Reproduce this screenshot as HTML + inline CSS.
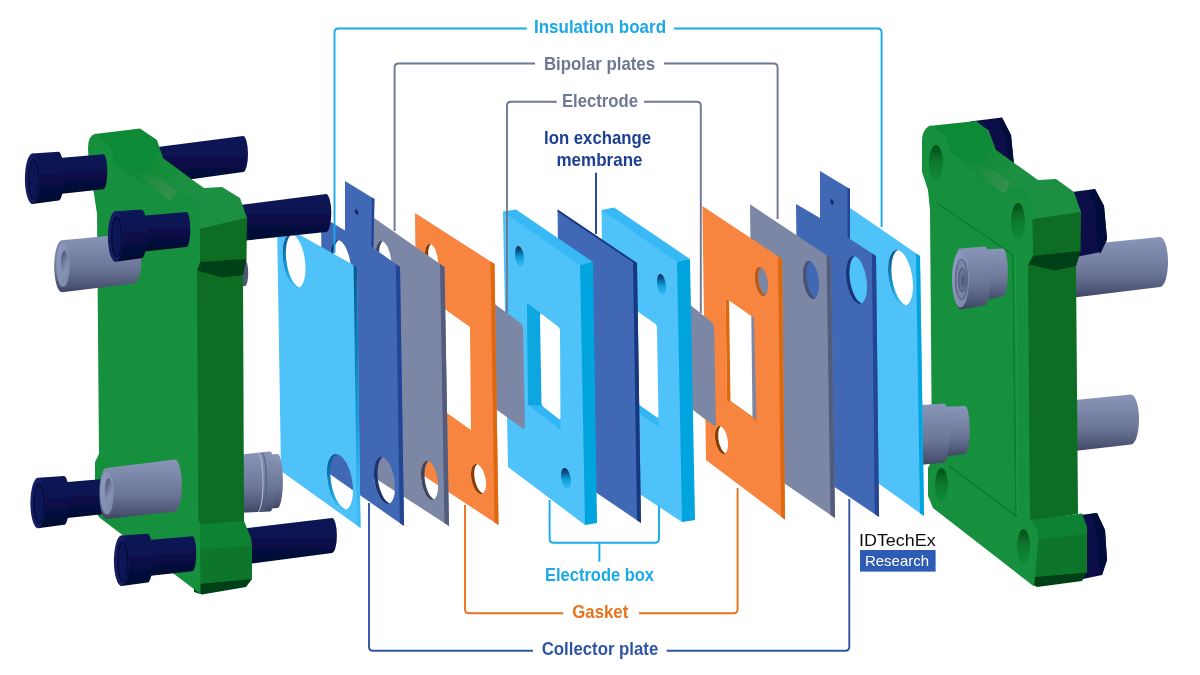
<!DOCTYPE html>
<html>
<head>
<meta charset="utf-8">
<title>Flow battery stack exploded view</title>
<style>
  html, body { margin: 0; padding: 0; background: #ffffff; }
  body { width: 1200px; height: 675px; overflow: hidden; font-family: "Liberation Sans", sans-serif; }
  svg { display: block; }
  text { font-family: "Liberation Sans", sans-serif; font-weight: bold; }
  .ln { fill: none; stroke-width: 1.9; stroke-linejoin: round; }
</style>
</head>
<body>
<svg width="1200" height="675" viewBox="0 0 1200 675">
<defs>
  <linearGradient id="navy" x1="0" y1="0" x2="0" y2="1">
    <stop offset="0" stop-color="#0c1656"/>
    <stop offset="0.35" stop-color="#0a1352"/>
    <stop offset="0.8" stop-color="#050a3a"/>
    <stop offset="1" stop-color="#03062a"/>
  </linearGradient>
  <linearGradient id="navyFace" x1="0" y1="0" x2="1" y2="1">
    <stop offset="0" stop-color="#16226a"/>
    <stop offset="1" stop-color="#0b1552"/>
  </linearGradient>
  <linearGradient id="port" x1="0" y1="0" x2="0" y2="1">
    <stop offset="0" stop-color="#8a96b9"/>
    <stop offset="0.3" stop-color="#7a86a8"/>
    <stop offset="0.6" stop-color="#6b7596"/>
    <stop offset="0.88" stop-color="#4e5675"/>
    <stop offset="1" stop-color="#3c4360"/>
  </linearGradient>
  <linearGradient id="portFace" x1="0" y1="0" x2="1" y2="1">
    <stop offset="0" stop-color="#909cbf"/>
    <stop offset="1" stop-color="#7a86a8"/>
  </linearGradient>
  <linearGradient id="sheen" x1="0" y1="0" x2="1" y2="1">
    <stop offset="0" stop-color="#3a8f50" stop-opacity="0"/>
    <stop offset="0.6" stop-color="#3a8f50" stop-opacity="0.55"/>
    <stop offset="1" stop-color="#3f9053" stop-opacity="0.85"/>
  </linearGradient>
  <linearGradient id="lbwall" x1="0" y1="0" x2="0.3" y2="1">
    <stop offset="0" stop-color="#0a4f80"/>
    <stop offset="0.35" stop-color="#0e79b5"/>
    <stop offset="0.75" stop-color="#1ba3e0"/>
    <stop offset="1" stop-color="#3bb9f5"/>
  </linearGradient>
  <linearGradient id="bore" x1="0.2" y1="0" x2="0.8" y2="1">
    <stop offset="0" stop-color="#4a5272"/>
    <stop offset="0.35" stop-color="#68728f"/>
    <stop offset="0.7" stop-color="#8490b3"/>
    <stop offset="1" stop-color="#8d99bc"/>
  </linearGradient>
  <linearGradient id="blind" x1="0" y1="0" x2="0" y2="1">
    <stop offset="0" stop-color="#062a55"/>
    <stop offset="0.25" stop-color="#0a5a95"/>
    <stop offset="0.55" stop-color="#0f9fdc"/>
    <stop offset="1" stop-color="#3fbdf6"/>
  </linearGradient>
  <linearGradient id="ghole" x1="0" y1="0" x2="0" y2="1">
    <stop offset="0" stop-color="#04501a"/>
    <stop offset="0.5" stop-color="#0a7a2c"/>
    <stop offset="1" stop-color="#128c3a"/>
  </linearGradient>
  <linearGradient id="gtop" x1="0" y1="0" x2="1" y2="0.3">
    <stop offset="0" stop-color="#0f8a35"/>
    <stop offset="0.45" stop-color="#118b37"/>
    <stop offset="0.75" stop-color="#1f9144"/>
    <stop offset="1" stop-color="#1a8f40"/>
  </linearGradient>
</defs>
<filter id="soft" filterUnits="userSpaceOnUse" x="0" y="0" width="1200" height="675"><feGaussianBlur stdDeviation="0.65"/></filter>
<rect width="1200" height="675" fill="#ffffff"/>
<g filter="url(#soft)">

<!-- right end: nuts and rear cylinders -->
<path d="M1070 246 L1160 237 A8 25 0 0 1 1160 287 L1070 298Z" fill="url(#port)"/>
<path d="M1070 400.5 L1131 394.5 A8 25 0 0 1 1131 444.5 L1070 451.5Z" fill="url(#port)"/>
<polygon points="970,121.5 1002,117.6 1011,135 1014,165 996,152 988,130" fill="#081048"/>
<polygon points="1002,117.6 1011,135 1014,165 1008,158 1006,137 998,120" fill="#060c3a"/>
<polygon points="1072,192 1095,189 1104,206 1107,238 1101,252 1076,257" fill="#081048"/>
<polygon points="1095,189 1104,206 1107,240 1100,254 1097,240 1096,207 1088,191" fill="#060c3a"/>
<polygon points="1080,515 1097,513 1105,530 1107,560 1102,575 1083,579" fill="#081048"/>
<polygon points="1097,513 1105,530 1107,560 1102,575 1098,560 1097,531 1090,514" fill="#060c3a"/>
<!-- right green end plate -->
<polygon points="1026,217 1081,212 1080.5,251.5 1026,258" fill="#086d24"/>
<polygon points="1023,265 1033,256 1080.5,251 1076,266.5 1056,271" fill="#043f12"/>
<polygon points="1023,263 1056,270.5 1076,266 1078,514 1026,522" fill="#086d24"/>
<polygon points="1026,520.5 1082,513.5 1087,527 1087,535 1032,542" fill="#0d8230"/>
<polygon points="1032,540.5 1087,534 1087,573.5 1030,579" fill="#0a7629"/>
<polygon points="1030,577.5 1087,572.5 1082,581 1037,587 1030,583" fill="#043f12"/>
<polygon points="929,126 976,121 988,130 996,150 1038,180 1056,179 1074,192 1081,212 1026,220 1024,204 1016,193 1009,191 1002,199 946,157 938,137 926,132" fill="url(#gtop)"/>
<polygon points="968,162 1004,195 1011,183 994,170" fill="url(#sheen)"/>
<path d="M922 142 Q922 128 931 125.5 L942 133 Q949 140 950 152 L1004 194 L1009 186 L1020 188 Q1028 192 1029.5 200 L1032.5 216 L1033 256 L1028 265 L1030 520 L1038 530 L1038 545 L1034 586.5 L933 508 L928 496 L928 468 L932 460 L930 210 L928 190 L922 172 Z" fill="#16903d"/>
<path d="M937 203 L1013 255 L1016 516 L949 466" fill="none" stroke="#0b7a2d" stroke-width="1.4"/>
<path d="M1015.5 258 L1017.5 514" fill="none" stroke="#1b9a45" stroke-width="1.6"/>
<ellipse cx="936" cy="163" rx="7" ry="18" fill="url(#ghole)"/>
<ellipse cx="1018" cy="221.5" rx="7" ry="18.5" fill="url(#ghole)"/>
<ellipse cx="941.5" cy="485" rx="6.5" ry="17" fill="url(#ghole)"/>
<ellipse cx="1023.5" cy="546.5" rx="6.5" ry="17.5" fill="url(#ghole)"/>
<!-- right end: front ports -->
<path d="M975 250 L1003 248.5 A4.8 24 0 0 1 1003 296.5 L975 302Z" fill="url(#port)"/>
<path d="M960 248.5 L985 246.5 A5.3 29.5 0 0 1 985 305.5 L960 309.5 A5.5 30.5 0 0 1 960 248.5Z" fill="url(#port)"/>
<ellipse cx="960.5" cy="279" rx="8.5" ry="28.5" fill="url(#portFace)"/>
<ellipse cx="961.5" cy="279.5" rx="6" ry="20" fill="#7a85a8" stroke="#59627f" stroke-width="1.2"/>
<ellipse cx="962.3" cy="280" rx="3.6" ry="12" fill="#6a7496" stroke="#4e5675" stroke-width="1"/>
<ellipse cx="962.8" cy="281" rx="1.8" ry="6" fill="#555d7d"/>
<path d="M940 407 L965 406 A4.8 24 0 0 1 965 454 L940 457Z" fill="url(#port)"/>
<path d="M915 405.5 L944 403.5 A5.3 29.5 0 0 1 944 462.5 L915 465.5Z" fill="url(#port)"/>

<!-- right insulation board -->
<path d="M840 201 L920 256 L924 516 L843 458Z M913 286.2 L912.8 290.8 L912.2 294.9 L911.3 298.5 L910.1 301.5 L908.5 303.8 L906.8 305.3 L904.8 306 L902.7 305.8 L900.5 304.8 L898.3 302.9 L896.2 300.3 L894.2 297 L892.5 293.2 L890.9 288.9 L889.7 284.2 L888.8 279.4 L888.2 274.5 L888 269.8 L888.2 265.2 L888.8 261.1 L889.7 257.5 L890.9 254.5 L892.5 252.2 L894.2 250.7 L896.2 250 L898.3 250.2 L900.5 251.2 L902.7 253.1 L904.8 255.7 L906.8 259 L908.5 262.8 L910.1 267.1 L911.3 271.8 L912.2 276.6 L912.8 281.5Z" fill="#4fc3f9" fill-rule="evenodd"/>
<polygon points="916,253.4 920,256 924,516 920,513.2" fill="#06a4df"/>
<polygon points="906.2,305.6 905.6,305.8 905,305.9 904.4,306 903.7,306 903.1,305.9 902.5,305.7 901.8,305.5 901.2,305.2 900.5,304.8 899.8,304.3 899.2,303.7 898.5,303.1 897.9,302.5 897.3,301.7 896.6,300.9 896,300 895.4,299.1 894.8,298.1 894.2,297 893.7,295.9 893.2,294.8 892.6,293.6 892.1,292.4 891.7,291.1 891.2,289.8 890.8,288.4 890.4,287.1 890,285.7 889.7,284.2 889.4,282.8 889.1,281.3 888.8,279.9 888.6,278.4 888.4,277 888.3,275.5 888.2,274 888.1,272.6 888,271.2 888,269.8 888,268.4 888.1,267 888.2,265.7 888.3,264.4 888.4,263.1 888.6,261.9 888.8,260.7 889.1,259.6 889.4,258.5 889.7,257.5 890,256.5 890.4,255.6 890.8,254.7 891.2,254 891.7,253.2 892.1,252.6 892.6,252 893.2,251.5 893.7,251.1 894.2,250.7 894.8,250.4 895.4,250.2 896,250.1 896.6,250 897.3,250 897.6,250.2 897.1,250.6 896.6,251 896,251.5 895.5,252.1 895.1,252.7 894.6,253.5 894.2,254.2 893.8,255.1 893.4,256 893.1,257 892.8,258 892.5,259.1 892.2,260.2 892,261.4 891.8,262.6 891.7,263.9 891.6,265.2 891.5,266.5 891.4,267.9 891.4,269.2 891.4,270.7 891.5,272.1 891.6,273.5 891.7,275 891.8,276.4 892,277.9 892.2,279.4 892.5,280.8 892.8,282.3 893.1,283.7 893.4,285.1 893.8,286.5 894.2,287.9 894.6,289.3 895.1,290.6 895.5,291.9 896,293.1 896.6,294.3 897.1,295.4 897.6,296.5 898.2,297.6 898.8,298.6 899.4,299.5 900,300.4 900.7,301.2 901.3,301.9 901.9,302.6 902.6,303.2 903.2,303.8 903.9,304.2 904.6,304.6 905.2,305 905.9,305.2 906.5,305.4" fill="url(#lbwall)"/>
<!-- right collector plate -->
<path d="M796 204 L820 218 L820 171 L850 189 L850 239 L876 256 L879 517 L799 463Z M867 286.9 L866.8 290.8 L866.4 294.4 L865.6 297.5 L864.5 300.1 L863.2 302.1 L861.8 303.4 L860.1 304 L858.3 303.8 L856.5 303 L854.7 301.4 L852.9 299.2 L851.2 296.4 L849.8 293.1 L848.5 289.5 L847.4 285.5 L846.6 281.3 L846.2 277.2 L846 273.1 L846.2 269.2 L846.6 265.6 L847.4 262.5 L848.5 259.9 L849.8 257.9 L851.2 256.6 L852.9 256 L854.7 256.2 L856.5 257 L858.3 258.6 L860.1 260.8 L861.8 263.6 L863.2 266.9 L864.5 270.5 L865.6 274.5 L866.4 278.7 L866.8 282.8Z" fill="#4068b5" fill-rule="evenodd"/>
<polygon points="871.8,253.2 876,256 879,517 874.8,514.1" fill="#234594"/>
<polygon points="847.5,187.5 850,189 850,239 847.5,237.4" fill="#234594"/>
<polygon points="861.8,303.4 861.3,303.6 860.8,303.8 860.3,303.9 859.7,304 859.2,304 858.7,303.9 858.1,303.8 857.6,303.6 857,303.3 856.5,303 856,302.6 855.4,302.1 854.9,301.6 854.3,301 853.8,300.4 853.3,299.7 852.7,299 852.2,298.2 851.7,297.3 851.2,296.4 850.8,295.5 850.3,294.5 849.9,293.5 849.5,292.4 849.1,291.3 848.7,290.2 848.3,289.1 848,287.9 847.7,286.7 847.4,285.5 847.1,284.3 846.9,283 846.7,281.8 846.5,280.5 846.4,279.3 846.2,278 846.1,276.7 846.1,275.5 846,274.3 846,273.1 846,271.9 846.1,270.7 846.1,269.6 846.2,268.4 846.4,267.4 846.5,266.3 846.7,265.3 846.9,264.3 847.1,263.4 847.4,262.5 847.7,261.7 848,260.9 848.3,260.2 848.7,259.5 849.1,258.9 849.5,258.3 849.9,257.8 850.3,257.3 850.8,257 851.2,256.6 851.7,256.4 852.2,256.2 852.7,256.1 853.3,256 853.8,256 854.3,256.1 854.3,256.4 853.8,256.8 853.4,257.3 853,257.8 852.6,258.3 852.2,258.9 851.8,259.6 851.5,260.4 851.2,261.1 850.9,262 850.6,262.9 850.4,263.8 850.2,264.8 850,265.8 849.9,266.8 849.7,267.9 849.6,269 849.6,270.2 849.5,271.4 849.5,272.5 849.5,273.8 849.6,275 849.6,276.2 849.7,277.5 849.9,278.7 850,280 850.2,281.2 850.4,282.5 850.6,283.7 850.9,285 851.2,286.2 851.5,287.4 851.8,288.5 852.2,289.7 852.6,290.8 853,291.9 853.4,293 853.8,294 854.3,295 854.8,295.9 855.2,296.8 855.7,297.6 856.2,298.4 856.8,299.2 857.3,299.9 857.8,300.5 858.4,301.1 858.9,301.6 859.5,302.1 860,302.5 860.5,302.8 861.1,303.1 861.6,303.3" fill="#1c3478"/>
<polygon points="833.6,203.1 833.6,203.5 833.5,203.9 833.4,204.2 833.2,204.5 833,204.7 832.8,204.8 832.5,204.8 832.3,204.7 832,204.6 831.7,204.4 831.5,204.1 831.2,203.7 831,203.3 830.8,202.9 830.6,202.4 830.5,201.9 830.4,201.4 830.4,200.9 830.4,200.5 830.5,200.1 830.6,199.8 830.8,199.5 831,199.3 831.2,199.2 831.5,199.2 831.7,199.3 832,199.4 832.3,199.6 832.5,199.9 832.8,200.3 833,200.7 833.2,201.1 833.4,201.6 833.5,202.1 833.6,202.6" fill="#14275f"/>
<!-- right bipolar plate -->
<path d="M750 204.3 L831 258 L835 518 L753 462Z M819 285.3 L818.9 288.4 L818.5 291.2 L817.9 293.7 L817.1 295.8 L816.1 297.4 L815 298.4 L813.7 299 L812.4 298.9 L811 298.3 L809.6 297.1 L808.3 295.3 L807 293.2 L805.9 290.6 L804.9 287.7 L804.1 284.6 L803.5 281.3 L803.1 278 L803 274.7 L803.1 271.6 L803.5 268.8 L804.1 266.3 L804.9 264.2 L805.9 262.6 L807 261.6 L808.3 261 L809.6 261.1 L811 261.7 L812.4 262.9 L813.7 264.7 L815 266.8 L816.1 269.4 L817.1 272.3 L817.9 275.4 L818.5 278.7 L818.9 282Z" fill="#7b86a5" fill-rule="evenodd"/>
<polygon points="826.5,255 831,258 835,518 830.5,514.9" fill="#525c7d"/>
<polygon points="815,298.4 814.6,298.7 814.3,298.8 813.9,298.9 813.5,299 813.1,299 812.7,299 812.3,298.9 811.8,298.7 811.4,298.5 811,298.3 810.6,298 810.2,297.6 809.7,297.2 809.3,296.8 808.9,296.3 808.5,295.7 808.1,295.1 807.7,294.5 807.4,293.9 807,293.2 806.6,292.4 806.3,291.7 806,290.9 805.6,290 805.3,289.2 805.1,288.3 804.8,287.4 804.5,286.5 804.3,285.5 804.1,284.6 803.9,283.6 803.7,282.6 803.5,281.6 803.4,280.6 803.3,279.6 803.2,278.6 803.1,277.6 803,276.7 803,275.7 803,274.7 803,273.8 803,272.8 803.1,271.9 803.2,271 803.3,270.2 803.4,269.3 803.5,268.5 803.7,267.8 803.9,267 804.1,266.3 804.3,265.6 804.5,265 804.8,264.4 805.1,263.9 805.3,263.4 805.6,262.9 806,262.5 806.3,262.1 806.6,261.8 807,261.6 807.4,261.3 807.7,261.2 808.1,261.1 808.5,261 808.9,261 809.3,261 809.7,261.1 810.1,261.3 809.8,261.6 809.5,262 809.1,262.4 808.8,262.8 808.6,263.3 808.3,263.9 808,264.5 807.8,265.1 807.6,265.8 807.4,266.5 807.2,267.2 807,268 806.9,268.8 806.8,269.7 806.7,270.5 806.6,271.4 806.5,272.3 806.5,273.2 806.5,274.2 806.5,275.2 806.5,276.1 806.6,277.1 806.7,278.1 806.8,279.1 806.9,280.1 807,281.1 807.2,282.1 807.4,283.1 807.6,284 807.8,285 808,285.9 808.3,286.9 808.6,287.8 808.8,288.6 809.1,289.5 809.5,290.3 809.8,291.1 810.1,291.9 810.5,292.6 810.9,293.3 811.2,294 811.6,294.6 812,295.2 812.4,295.7 812.8,296.2 813.2,296.7 813.7,297.1 814.1,297.4 814.5,297.7 814.9,298 815.3,298.2" fill="#4a5270"/>
<!-- right gasket -->
<path d="M702.4 206 L782 259 L785 519.5 L706 460Z M768 285.8 L767.9 288.1 L767.6 290.3 L767.1 292.1 L766.5 293.7 L765.7 294.9 L764.8 295.6 L763.7 296 L762.6 295.9 L761.5 295.4 L760.4 294.4 L759.3 293 L758.2 291.4 L757.3 289.4 L756.5 287.1 L755.9 284.7 L755.4 282.2 L755.1 279.7 L755 277.2 L755.1 274.9 L755.4 272.7 L755.9 270.9 L756.5 269.3 L757.3 268.1 L758.2 267.4 L759.3 267 L760.4 267.1 L761.5 267.6 L762.6 268.6 L763.7 270 L764.8 271.6 L765.7 273.6 L766.5 275.9 L767.1 278.3 L767.6 280.8 L767.9 283.3Z M728 444.3 L727.9 446.5 L727.6 448.6 L727.1 450.4 L726.5 451.9 L725.7 453 L724.8 453.7 L723.7 454 L722.6 453.9 L721.5 453.3 L720.4 452.4 L719.3 451.1 L718.2 449.4 L717.3 447.5 L716.5 445.3 L715.9 442.9 L715.4 440.5 L715.1 438.1 L715 435.7 L715.1 433.5 L715.4 431.4 L715.9 429.6 L716.5 428.1 L717.3 427 L718.2 426.3 L719.3 426 L720.4 426.1 L721.5 426.7 L722.6 427.6 L723.7 428.9 L724.8 430.6 L725.7 432.5 L726.5 434.7 L727.1 437.1 L727.6 439.5 L727.9 441.9Z M725.6 298 L754 318 L756.6 422 L727 401Z" fill="#f7853f" fill-rule="evenodd"/>
<polygon points="778,256.4 782,259 785,519.5 781,516.7" fill="#de6710"/>
<polygon points="725.6,298 729.1,300.5 730.5,403.5 727,401" fill="#de6710"/>
<polygon points="727,401 756.6,422 756.6,419.5 730.5,401" fill="#ee7a2e"/>
<polygon points="765.3,295.2 765,295.5 764.8,295.6 764.5,295.8 764.1,295.9 763.8,296 763.5,296 763.2,296 762.9,295.9 762.5,295.9 762.2,295.7 761.8,295.6 761.5,295.4 761.2,295.1 760.8,294.8 760.5,294.5 760.1,294.2 759.8,293.8 759.5,293.3 759.2,292.9 758.9,292.4 758.5,291.9 758.2,291.4 758,290.8 757.7,290.2 757.4,289.6 757.2,288.9 756.9,288.3 756.7,287.6 756.4,286.9 756.2,286.2 756,285.4 755.9,284.7 755.7,284 755.6,283.2 755.4,282.5 755.3,281.7 755.2,280.9 755.1,280.2 755.1,279.4 755,278.7 755,277.9 755,277.2 755,276.5 755,275.8 755.1,275.1 755.1,274.4 755.2,273.8 755.3,273.1 755.4,272.5 755.6,271.9 755.7,271.4 755.9,270.9 756,270.4 756.2,269.9 756.4,269.4 756.7,269 756.9,268.7 757.2,268.3 757.4,268 757.7,267.8 758,267.5 758.2,267.4 758.5,267.2 758.9,267.1 759.2,267 759.5,267 759.8,267 760.1,267.1 760.5,267.1 760.8,267.3 760.6,267.6 760.4,267.9 760.1,268.2 759.9,268.6 759.6,269 759.4,269.4 759.2,269.9 759.1,270.4 758.9,270.9 758.8,271.5 758.6,272.1 758.5,272.7 758.4,273.3 758.3,273.9 758.3,274.6 758.2,275.3 758.2,276 758.2,276.7 758.2,277.5 758.2,278.2 758.3,278.9 758.3,279.7 758.4,280.5 758.5,281.2 758.6,282 758.8,282.7 758.9,283.5 759.1,284.2 759.2,285 759.4,285.7 759.6,286.4 759.9,287.1 760.1,287.8 760.4,288.4 760.6,289.1 760.9,289.7 761.2,290.3 761.5,290.9 761.7,291.4 762.1,291.9 762.4,292.4 762.7,292.9 763,293.3 763.3,293.7 763.7,294 764,294.3 764.4,294.6 764.7,294.9 765,295.1" fill="#c25a0c"/>
<polygon points="725.3,453.3 725,453.5 724.8,453.7 724.5,453.8 724.1,453.9 723.8,454 723.5,454 723.2,454 722.9,453.9 722.5,453.8 722.2,453.7 721.8,453.5 721.5,453.3 721.2,453.1 720.8,452.8 720.5,452.5 720.1,452.1 719.8,451.8 719.5,451.3 719.2,450.9 718.9,450.4 718.5,449.9 718.2,449.4 718,448.8 717.7,448.3 717.4,447.7 717.2,447 716.9,446.4 716.7,445.7 716.4,445.1 716.2,444.4 716,443.7 715.9,442.9 715.7,442.2 715.6,441.5 715.4,440.8 715.3,440 715.2,439.3 715.1,438.6 715.1,437.8 715,437.1 715,436.4 715,435.7 715,435 715,434.3 715.1,433.7 715.1,433 715.2,432.4 715.3,431.8 715.4,431.2 715.6,430.7 715.7,430.1 715.9,429.6 716,429.1 716.2,428.7 716.4,428.3 716.7,427.9 716.9,427.5 717.2,427.2 717.4,426.9 717.7,426.7 718,426.5 718.2,426.3 718.5,426.2 718.9,426.1 719.2,426 719.5,426 719.8,426 720.1,426.1 720.5,426.2 720.6,426.5 720.4,426.7 720.1,427.1 719.9,427.4 719.6,427.8 719.4,428.2 719.2,428.7 719.1,429.1 718.9,429.6 718.8,430.2 718.6,430.7 718.5,431.3 718.4,431.9 718.3,432.6 718.3,433.2 718.2,433.9 718.2,434.5 718.2,435.2 718.2,435.9 718.2,436.6 718.3,437.4 718.3,438.1 718.4,438.8 718.5,439.6 718.6,440.3 718.8,441 718.9,441.7 719.1,442.5 719.2,443.2 719.4,443.9 719.6,444.6 719.9,445.2 720.1,445.9 720.4,446.6 720.6,447.2 720.9,447.8 721.2,448.4 721.5,448.9 721.7,449.4 722.1,449.9 722.4,450.4 722.7,450.9 723,451.3 723.3,451.7 723.7,452 724,452.3 724.4,452.6 724.7,452.8 725,453.1 725.4,453.2" fill="#8a3c06"/>
<!-- right electrode -->
<path d="M684 300 L710.9 321.5 Q714 324 714.1 328 L715.9 423.5 Q716 427.5 712.8 425.1 L685 404 Z" fill="#7b86a5"/>
<!-- right electrode box -->
<polygon points="601.6,210 614,207.6 690,259 674,265 602,214" fill="#38b9f5"/>
<polygon points="674,263 690,259 695,520 682,522 679,517" fill="#06a4df"/>
<polygon points="601.6,210 677,262 682,522 604,470.5" fill="#4fc3f9"/>
<polygon points="624,302 657,325 658.5,427 625.5,404" fill="#33b7f4"/>
<polygon points="624,302 636.4,310.6 638,404.5 625.5,404" fill="#0ca6e1"/>
<path d="M636.4 313.1 Q636.4 310.6 638.4 312 L655 323.6 Q657 325 657 327.5 L658.5 416 Q658.5 418.5 656.4 417.1 L640.1 405.6 Q638 404.2 638 401.7 Z" fill="#ffffff"/>
<polygon points="666,287.5 665.9,289.2 665.7,290.7 665.4,292.1 664.9,293.2 664.4,294.1 663.8,294.7 663,295 662.3,294.9 661.5,294.6 660.7,293.9 660,292.9 659.2,291.7 658.6,290.3 658.1,288.7 657.6,287 657.3,285.2 657.1,283.3 657,281.5 657.1,279.8 657.3,278.3 657.6,276.9 658.1,275.8 658.6,274.9 659.2,274.3 660,274 660.7,274.1 661.5,274.4 662.3,275.1 663,276.1 663.8,277.3 664.4,278.7 664.9,280.3 665.4,282 665.7,283.8 665.9,285.7" fill="url(#blind)"/>
<!-- ion exchange membrane -->
<polygon points="557.6,209.6 637,263 641,523 560,468" fill="#4068b5"/>
<polygon points="633,260.4 637,263 641,523 637,520.2" fill="#183981"/>
<polygon points="557.6,209.6 637,263 635,263.8 557.6,211.8" fill="#183981"/>
<!-- left electrode box -->
<polygon points="503,211.4 516,209.6 593,262 577,268 503.5,216" fill="#38b9f5"/>
<polygon points="577,266 593,262 597,523 585,525 582,520" fill="#06a4df"/>
<polygon points="503,212 580,265 585,525 508,467" fill="#4fc3f9"/>
<polygon points="527,303 560,328 560.5,430 528,405" fill="#33b7f4"/>
<polygon points="527,303 540,312.8 541.5,405.5 528,405" fill="#0ca6e1"/>
<path d="M540 315.3 Q540 312.8 542 314.3 L558 326.5 Q560 328 560 330.5 L560.5 417.8 Q560.5 420.3 558.5 418.8 L543.5 407 Q541.5 405.5 541.5 403 Z" fill="#ffffff"/>
<polygon points="524,259.5 523.9,261.2 523.7,262.7 523.4,264.1 522.9,265.2 522.4,266.1 521.8,266.7 521,267 520.3,266.9 519.5,266.6 518.7,265.9 518,264.9 517.2,263.7 516.6,262.3 516.1,260.7 515.6,259 515.3,257.2 515.1,255.3 515,253.5 515.1,251.8 515.3,250.3 515.6,248.9 516.1,247.8 516.6,246.9 517.2,246.3 518,246 518.7,246.1 519.5,246.4 520.3,247.1 521,248.1 521.8,249.3 522.4,250.7 522.9,252.3 523.4,254 523.7,255.8 523.9,257.7" fill="url(#blind)"/>
<polygon points="571,481.8 570.9,483.5 570.7,485 570.3,486.3 569.8,487.4 569.2,488.3 568.5,488.8 567.7,489 566.9,488.9 566,488.5 565.1,487.7 564.3,486.7 563.5,485.5 562.8,484 562.2,482.4 561.7,480.6 561.3,478.8 561.1,477 561,475.2 561.1,473.5 561.3,472 561.7,470.7 562.2,469.6 562.8,468.7 563.5,468.2 564.3,468 565.1,468.1 566,468.5 566.9,469.3 567.7,470.3 568.5,471.5 569.2,473 569.8,474.6 570.3,476.4 570.7,478.2 570.9,480" fill="url(#blind)"/>
<!-- left electrode -->
<path d="M490 300.5 L519.8 322.6 Q523 325 523.1 329 L524.9 426 Q525 430 521.7 427.7 L490 405 Z" fill="#7b86a5"/>
<!-- left gasket -->
<path d="M415 213 L494.5 264 L498.5 525 L418 472Z M438 262.8 L437.9 265.1 L437.6 267.3 L437.1 269.1 L436.5 270.7 L435.7 271.9 L434.8 272.6 L433.7 273 L432.6 272.9 L431.5 272.4 L430.4 271.4 L429.3 270 L428.2 268.4 L427.3 266.4 L426.5 264.1 L425.9 261.7 L425.4 259.2 L425.1 256.7 L425 254.2 L425.1 251.9 L425.4 249.7 L425.9 247.9 L426.5 246.3 L427.3 245.1 L428.2 244.4 L429.3 244 L430.4 244.1 L431.5 244.6 L432.6 245.6 L433.7 247 L434.8 248.6 L435.7 250.6 L436.5 252.9 L437.1 255.3 L437.6 257.8 L437.9 260.3Z M486 483.9 L485.9 486.3 L485.5 488.5 L485 490.4 L484.2 491.9 L483.3 493 L482.2 493.7 L481.1 494 L479.8 493.8 L478.5 493.2 L477.2 492.1 L475.9 490.6 L474.8 488.8 L473.7 486.7 L472.8 484.3 L472 481.8 L471.5 479.2 L471.1 476.6 L471 474.1 L471.1 471.7 L471.5 469.5 L472 467.6 L472.8 466.1 L473.7 465 L474.8 464.3 L475.9 464 L477.2 464.2 L478.5 464.8 L479.8 465.9 L481.1 467.4 L482.2 469.2 L483.3 471.3 L484.2 473.7 L485 476.2 L485.5 478.8 L485.9 481.4Z M439 305 L470 327 L471 430 L440 408Z" fill="#f7853f" fill-rule="evenodd"/>
<polygon points="490.5,261.4 494.5,264 498.5,525 494.5,522.2" fill="#de6710"/>
<polygon points="435.3,272.2 435,272.5 434.8,272.6 434.5,272.8 434.1,272.9 433.8,273 433.5,273 433.2,273 432.9,272.9 432.5,272.9 432.2,272.7 431.8,272.6 431.5,272.4 431.2,272.1 430.8,271.8 430.5,271.5 430.1,271.2 429.8,270.8 429.5,270.3 429.2,269.9 428.9,269.4 428.5,268.9 428.2,268.4 428,267.8 427.7,267.2 427.4,266.6 427.2,265.9 426.9,265.3 426.7,264.6 426.4,263.9 426.2,263.2 426,262.4 425.9,261.7 425.7,261 425.6,260.2 425.4,259.5 425.3,258.7 425.2,257.9 425.1,257.2 425.1,256.4 425,255.7 425,254.9 425,254.2 425,253.5 425,252.8 425.1,252.1 425.1,251.4 425.2,250.8 425.3,250.1 425.4,249.5 425.6,248.9 425.7,248.4 425.9,247.9 426,247.4 426.2,246.9 426.4,246.4 426.7,246 426.9,245.7 427.2,245.3 427.4,245 427.7,244.8 428,244.5 428.2,244.4 428.5,244.2 428.9,244.1 429.2,244 429.5,244 429.8,244 430.1,244.1 430.5,244.1 430.8,244.3 430.6,244.6 430.4,244.9 430.1,245.2 429.9,245.6 429.6,246 429.4,246.4 429.2,246.9 429.1,247.4 428.9,247.9 428.8,248.5 428.6,249.1 428.5,249.7 428.4,250.3 428.3,250.9 428.3,251.6 428.2,252.3 428.2,253 428.2,253.7 428.2,254.5 428.2,255.2 428.3,255.9 428.3,256.7 428.4,257.5 428.5,258.2 428.6,259 428.8,259.7 428.9,260.5 429.1,261.2 429.2,262 429.4,262.7 429.6,263.4 429.9,264.1 430.1,264.8 430.4,265.4 430.6,266.1 430.9,266.7 431.2,267.3 431.4,267.9 431.7,268.4 432.1,268.9 432.4,269.4 432.7,269.9 433,270.3 433.3,270.7 433.7,271 434,271.3 434.4,271.6 434.7,271.9 435,272.1" fill="#8a3c06"/>
<polygon points="482.9,493.4 482.6,493.6 482.2,493.7 481.9,493.9 481.6,493.9 481.2,494 480.8,494 480.4,494 480.1,493.9 479.7,493.8 479.3,493.6 478.9,493.4 478.5,493.2 478.1,492.9 477.7,492.6 477.3,492.2 476.9,491.8 476.6,491.4 476.2,490.9 475.8,490.4 475.4,489.9 475.1,489.4 474.8,488.8 474.4,488.2 474.1,487.5 473.8,486.9 473.5,486.2 473.2,485.5 472.9,484.8 472.7,484.1 472.4,483.3 472.2,482.6 472,481.8 471.8,481 471.6,480.2 471.5,479.5 471.4,478.7 471.3,477.9 471.2,477.1 471.1,476.3 471,475.6 471,474.8 471,474.1 471,473.3 471,472.6 471.1,471.9 471.2,471.2 471.3,470.6 471.4,469.9 471.5,469.3 471.6,468.7 471.8,468.2 472,467.6 472.2,467.1 472.4,466.7 472.7,466.2 472.9,465.8 473.2,465.5 473.5,465.2 473.8,464.9 474.1,464.6 474.4,464.4 474.8,464.3 475.1,464.1 475.4,464.1 475.8,464 476.2,464 476.6,464 476.9,464.1 477,464.4 476.7,464.7 476.4,465 476.1,465.4 475.9,465.8 475.6,466.2 475.4,466.7 475.2,467.2 475,467.7 474.8,468.2 474.7,468.8 474.6,469.4 474.5,470.1 474.4,470.7 474.3,471.4 474.2,472.1 474.2,472.8 474.2,473.6 474.2,474.3 474.2,475.1 474.3,475.8 474.4,476.6 474.5,477.4 474.6,478.2 474.7,479 474.8,479.8 475,480.5 475.2,481.3 475.4,482.1 475.6,482.8 475.9,483.6 476.1,484.3 476.4,485 476.7,485.7 477,486.4 477.3,487.1 477.6,487.7 477.9,488.3 478.3,488.9 478.6,489.4 479,490 479.4,490.5 479.8,490.9 480.1,491.3 480.5,491.7 480.9,492.1 481.3,492.4 481.7,492.7 482.1,492.9 482.5,493.1 482.9,493.3" fill="#8a3c06"/>
<!-- left bipolar plate -->
<path d="M364 211 L444.5 267 L449 526 L367 473Z M391.5 265.3 L391.4 268.4 L391 271.2 L390.4 273.7 L389.6 275.8 L388.6 277.4 L387.5 278.4 L386.2 279 L384.9 278.9 L383.5 278.3 L382.1 277.1 L380.8 275.3 L379.5 273.2 L378.4 270.6 L377.4 267.7 L376.6 264.6 L376 261.3 L375.6 258 L375.5 254.7 L375.6 251.6 L376 248.8 L376.6 246.3 L377.4 244.2 L378.4 242.6 L379.5 241.6 L380.8 241 L382.1 241.1 L383.5 241.7 L384.9 242.9 L386.2 244.7 L387.5 246.8 L388.6 249.4 L389.6 252.3 L390.4 255.4 L391 258.7 L391.4 262Z M438 486.1 L437.9 489.3 L437.5 492.2 L436.9 494.7 L436 496.8 L435 498.4 L433.8 499.5 L432.4 500 L431 499.9 L429.5 499.2 L428 497.9 L426.6 496.1 L425.2 493.9 L424 491.2 L423 488.2 L422.1 485 L421.5 481.6 L421.1 478.2 L421 474.9 L421.1 471.7 L421.5 468.8 L422.1 466.3 L423 464.2 L424 462.6 L425.2 461.5 L426.6 461 L428 461.1 L429.5 461.8 L431 463.1 L432.4 464.9 L433.8 467.1 L435 469.8 L436 472.8 L436.9 476 L437.5 479.4 L437.9 482.8Z" fill="#7b86a5" fill-rule="evenodd"/>
<polygon points="440,264 444.5,267 449,526 444.5,522.9" fill="#525c7d"/>
<polygon points="387.5,278.4 387.1,278.7 386.8,278.8 386.4,278.9 386,279 385.6,279 385.2,279 384.8,278.9 384.3,278.7 383.9,278.5 383.5,278.3 383.1,278 382.7,277.6 382.2,277.2 381.8,276.8 381.4,276.3 381,275.7 380.6,275.1 380.2,274.5 379.9,273.9 379.5,273.2 379.1,272.4 378.8,271.7 378.5,270.9 378.1,270 377.8,269.2 377.6,268.3 377.3,267.4 377,266.5 376.8,265.5 376.6,264.6 376.4,263.6 376.2,262.6 376,261.6 375.9,260.6 375.8,259.6 375.7,258.6 375.6,257.6 375.5,256.7 375.5,255.7 375.5,254.7 375.5,253.8 375.5,252.8 375.6,251.9 375.7,251 375.8,250.2 375.9,249.3 376,248.5 376.2,247.8 376.4,247 376.6,246.3 376.8,245.6 377,245 377.3,244.4 377.6,243.9 377.8,243.4 378.1,242.9 378.5,242.5 378.8,242.1 379.1,241.8 379.5,241.6 379.9,241.3 380.2,241.2 380.6,241.1 381,241 381.4,241 381.8,241 382.2,241.1 382.6,241.3 382.3,241.6 382,242 381.6,242.4 381.3,242.8 381.1,243.3 380.8,243.9 380.5,244.5 380.3,245.1 380.1,245.8 379.9,246.5 379.7,247.2 379.5,248 379.4,248.8 379.3,249.7 379.2,250.5 379.1,251.4 379,252.3 379,253.2 379,254.2 379,255.2 379,256.1 379.1,257.1 379.2,258.1 379.3,259.1 379.4,260.1 379.5,261.1 379.7,262.1 379.9,263.1 380.1,264 380.3,265 380.5,265.9 380.8,266.9 381.1,267.8 381.3,268.6 381.6,269.5 382,270.3 382.3,271.1 382.6,271.9 383,272.6 383.4,273.3 383.7,274 384.1,274.6 384.5,275.2 384.9,275.7 385.3,276.2 385.7,276.7 386.2,277.1 386.6,277.4 387,277.7 387.4,278 387.8,278.2" fill="#3d4560"/>
<polygon points="433.8,499.5 433.4,499.7 433,499.8 432.5,499.9 432.1,500 431.7,500 431.3,499.9 430.8,499.8 430.4,499.7 429.9,499.4 429.5,499.2 429.1,498.9 428.6,498.5 428.2,498.1 427.7,497.6 427.3,497.1 426.9,496.5 426.5,495.9 426,495.3 425.6,494.6 425.2,493.9 424.9,493.1 424.5,492.3 424.2,491.5 423.8,490.6 423.5,489.7 423.2,488.8 422.9,487.9 422.6,486.9 422.4,486 422.1,485 421.9,484 421.7,483 421.6,482 421.4,480.9 421.3,479.9 421.2,478.9 421.1,477.9 421,476.9 421,475.9 421,474.9 421,473.9 421,473 421.1,472 421.2,471.1 421.3,470.2 421.4,469.4 421.6,468.6 421.7,467.8 421.9,467 422.1,466.3 422.4,465.6 422.6,465 422.9,464.4 423.2,463.8 423.5,463.3 423.8,462.9 424.2,462.5 424.5,462.1 424.9,461.8 425.2,461.5 425.6,461.3 426,461.2 426.5,461.1 426.9,461 427.3,461 427.7,461.1 428.2,461.2 428.4,461.3 428,461.6 427.7,461.9 427.3,462.3 427,462.8 426.7,463.3 426.4,463.9 426.1,464.5 425.9,465.1 425.6,465.8 425.4,466.5 425.2,467.3 425.1,468 424.9,468.9 424.8,469.7 424.7,470.6 424.6,471.5 424.5,472.4 424.5,473.4 424.5,474.4 424.5,475.4 424.5,476.3 424.6,477.4 424.7,478.4 424.8,479.4 424.9,480.4 425.1,481.4 425.2,482.4 425.4,483.5 425.6,484.5 425.9,485.4 426.1,486.4 426.4,487.4 426.7,488.3 427,489.2 427.3,490.1 427.7,491 428,491.8 428.4,492.6 428.8,493.3 429.1,494.1 429.5,494.8 430,495.4 430.4,496 430.8,496.6 431.2,497.1 431.7,497.5 432.1,498 432.6,498.3 433,498.7 433.4,498.9 433.9,499.1" fill="#3d4560"/>
<!-- left collector plate -->
<path d="M321 216 L345 230.6 L345 181 L374.4 199 L373.5 248 L400 267 L404 526 L324 470Z M351 270.9 L350.8 274.8 L350.4 278.4 L349.6 281.5 L348.5 284.1 L347.2 286.1 L345.8 287.4 L344.1 288 L342.3 287.8 L340.5 287 L338.7 285.4 L336.9 283.2 L335.2 280.4 L333.8 277.1 L332.5 273.5 L331.4 269.5 L330.6 265.3 L330.2 261.2 L330 257.1 L330.2 253.2 L330.6 249.6 L331.4 246.5 L332.5 243.9 L333.8 241.9 L335.2 240.6 L336.9 240 L338.7 240.2 L340.5 241 L342.3 242.6 L344.1 244.8 L345.8 247.6 L347.2 250.9 L348.5 254.5 L349.6 258.5 L350.4 262.7 L350.8 266.8Z M395 487.4 L394.8 491.2 L394.4 494.7 L393.6 497.7 L392.5 500.2 L391.2 502.2 L389.8 503.4 L388.1 504 L386.3 503.8 L384.5 503 L382.7 501.4 L380.9 499.2 L379.2 496.5 L377.8 493.2 L376.5 489.6 L375.4 485.7 L374.6 481.7 L374.2 477.6 L374 473.6 L374.2 469.8 L374.6 466.3 L375.4 463.3 L376.5 460.8 L377.8 458.8 L379.2 457.6 L380.9 457 L382.7 457.2 L384.5 458 L386.3 459.6 L388.1 461.8 L389.8 464.5 L391.2 467.8 L392.5 471.4 L393.6 475.3 L394.4 479.3 L394.8 483.4Z" fill="#4068b5" fill-rule="evenodd"/>
<polygon points="395.8,264.2 400,267 404,526 399.8,523.1" fill="#234594"/>
<polygon points="372,197.5 374.4,199 373.5,248 371.2,246.4" fill="#234594"/>
<polygon points="345.8,287.4 345.3,287.6 344.8,287.8 344.3,287.9 343.7,288 343.2,288 342.7,287.9 342.1,287.8 341.6,287.6 341,287.3 340.5,287 340,286.6 339.4,286.1 338.9,285.6 338.3,285 337.8,284.4 337.3,283.7 336.7,283 336.2,282.2 335.7,281.3 335.2,280.4 334.8,279.5 334.3,278.5 333.9,277.5 333.5,276.4 333.1,275.3 332.7,274.2 332.3,273.1 332,271.9 331.7,270.7 331.4,269.5 331.1,268.3 330.9,267 330.7,265.8 330.5,264.5 330.4,263.3 330.2,262 330.1,260.7 330.1,259.5 330,258.3 330,257.1 330,255.9 330.1,254.7 330.1,253.6 330.2,252.4 330.4,251.4 330.5,250.3 330.7,249.3 330.9,248.3 331.1,247.4 331.4,246.5 331.7,245.7 332,244.9 332.3,244.2 332.7,243.5 333.1,242.9 333.5,242.3 333.9,241.8 334.3,241.3 334.8,241 335.2,240.6 335.7,240.4 336.2,240.2 336.7,240.1 337.3,240 337.8,240 338.3,240.1 338.3,240.4 337.8,240.8 337.4,241.3 337,241.8 336.6,242.3 336.2,242.9 335.8,243.6 335.5,244.4 335.2,245.1 334.9,246 334.6,246.9 334.4,247.8 334.2,248.8 334,249.8 333.9,250.8 333.7,251.9 333.6,253 333.6,254.2 333.5,255.4 333.5,256.5 333.5,257.8 333.6,259 333.6,260.2 333.7,261.5 333.9,262.7 334,264 334.2,265.2 334.4,266.5 334.6,267.7 334.9,269 335.2,270.2 335.5,271.4 335.8,272.5 336.2,273.7 336.6,274.8 337,275.9 337.4,277 337.8,278 338.3,279 338.8,279.9 339.2,280.8 339.7,281.6 340.2,282.4 340.8,283.2 341.3,283.9 341.8,284.5 342.4,285.1 342.9,285.6 343.5,286.1 344,286.5 344.5,286.8 345.1,287.1 345.6,287.3" fill="#1a3070"/>
<polygon points="389.8,503.4 389.3,503.7 388.8,503.8 388.3,503.9 387.7,504 387.2,504 386.7,503.9 386.1,503.8 385.6,503.6 385,503.3 384.5,503 384,502.6 383.4,502.1 382.9,501.6 382.3,501 381.8,500.4 381.3,499.7 380.7,499 380.2,498.2 379.7,497.4 379.2,496.5 378.8,495.6 378.3,494.6 377.9,493.6 377.5,492.6 377.1,491.5 376.7,490.4 376.3,489.2 376,488.1 375.7,486.9 375.4,485.7 375.1,484.5 374.9,483.3 374.7,482.1 374.5,480.8 374.4,479.6 374.2,478.4 374.1,477.2 374.1,476 374,474.8 374,473.6 374,472.4 374.1,471.3 374.1,470.1 374.2,469.1 374.4,468 374.5,467 374.7,466 374.9,465 375.1,464.1 375.4,463.3 375.7,462.5 376,461.7 376.3,461 376.7,460.3 377.1,459.7 377.5,459.2 377.9,458.7 378.3,458.3 378.8,457.9 379.2,457.6 379.7,457.3 380.2,457.2 380.7,457.1 381.3,457 381.8,457 382.3,457.1 382.3,457.4 381.8,457.7 381.4,458.2 381,458.7 380.6,459.2 380.2,459.8 379.8,460.5 379.5,461.2 379.2,461.9 378.9,462.7 378.6,463.6 378.4,464.5 378.2,465.5 378,466.4 377.9,467.5 377.7,468.5 377.6,469.6 377.6,470.7 377.5,471.9 377.5,473 377.5,474.2 377.6,475.4 377.6,476.6 377.7,477.9 377.9,479.1 378,480.3 378.2,481.6 378.4,482.8 378.6,484 378.9,485.2 379.2,486.4 379.5,487.6 379.8,488.7 380.2,489.9 380.6,491 381,492 381.4,493.1 381.8,494.1 382.3,495 382.8,496 383.2,496.8 383.7,497.7 384.2,498.5 384.8,499.2 385.3,499.9 385.8,500.5 386.4,501.1 386.9,501.6 387.5,502 388,502.4 388.5,502.8 389.1,503 389.6,503.2" fill="#1a3070"/>
<polygon points="358.2,213.1 358.2,213.5 358.1,213.9 358,214.2 357.8,214.5 357.6,214.7 357.4,214.8 357.1,214.8 356.9,214.7 356.6,214.6 356.3,214.4 356.1,214.1 355.8,213.7 355.6,213.3 355.4,212.9 355.2,212.4 355.1,211.9 355,211.4 355,210.9 355,210.5 355.1,210.1 355.2,209.8 355.4,209.5 355.6,209.3 355.8,209.2 356.1,209.2 356.3,209.3 356.6,209.4 356.9,209.6 357.1,209.9 357.4,210.3 357.6,210.7 357.8,211.1 358,211.6 358.1,212.1 358.2,212.6" fill="#14275f"/>
<!-- left insulation board -->
<path d="M277 222 L357 267 L360.5 528 L281 471Z M305.5 268.6 L305.3 273 L304.8 277 L304 280.5 L302.8 283.5 L301.4 285.7 L299.8 287.2 L297.9 287.9 L296 287.8 L294 286.9 L292 285.2 L290.1 282.8 L288.2 279.6 L286.6 276 L285.2 271.8 L284 267.4 L283.2 262.7 L282.7 258 L282.5 253.4 L282.7 249 L283.2 245 L284 241.5 L285.2 238.5 L286.6 236.3 L288.2 234.8 L290.1 234.1 L292 234.2 L294 235.1 L296 236.8 L297.9 239.2 L299.8 242.4 L301.4 246 L302.8 250.2 L304 254.6 L304.8 259.3 L305.3 264Z M353 490.6 L352.8 495.1 L352.2 499.2 L351.3 502.8 L350 505.7 L348.4 507.9 L346.5 509.4 L344.4 510 L342.3 509.7 L340 508.7 L337.7 506.8 L335.6 504.1 L333.5 500.8 L331.6 496.9 L330 492.6 L328.7 487.9 L327.8 483.1 L327.2 478.2 L327 473.4 L327.2 468.9 L327.8 464.8 L328.7 461.2 L330 458.3 L331.6 456.1 L333.5 454.6 L335.6 454 L337.7 454.3 L340 455.3 L342.3 457.2 L344.4 459.9 L346.5 463.2 L348.4 467.1 L350 471.4 L351.3 476.1 L352.2 480.9 L352.8 485.8Z" fill="#4fc3f9" fill-rule="evenodd"/>
<polygon points="353.6,264.8 357,267 360.5,528 357.1,525.6" fill="url(#lbwall)"/>
<polygon points="299.2,287.5 298.7,287.8 298.1,287.9 297.6,288 297,288 296.4,287.9 295.8,287.8 295.2,287.6 294.6,287.3 294,286.9 293.4,286.5 292.8,286 292.2,285.4 291.6,284.8 291,284.1 290.4,283.3 289.9,282.5 289.3,281.6 288.8,280.6 288.2,279.6 287.7,278.6 287.2,277.5 286.8,276.4 286.3,275.2 285.9,274 285.5,272.7 285.1,271.4 284.7,270.1 284.4,268.7 284,267.4 283.8,266 283.5,264.6 283.3,263.2 283.1,261.8 282.9,260.4 282.8,259 282.6,257.6 282.6,256.2 282.5,254.8 282.5,253.4 282.5,252.1 282.6,250.7 282.6,249.5 282.8,248.2 282.9,247 283.1,245.8 283.3,244.6 283.5,243.5 283.8,242.5 284,241.5 284.4,240.5 284.7,239.6 285.1,238.8 285.5,238 285.9,237.3 286.3,236.7 286.8,236.1 287.2,235.6 287.7,235.1 288.2,234.8 288.8,234.5 289.3,234.2 289.9,234.1 290.4,234 291,234 291.6,234.1 291.6,234.3 291.1,234.6 290.6,235.1 290.2,235.6 289.7,236.2 289.3,236.8 288.9,237.5 288.5,238.3 288.1,239.1 287.8,240 287.4,241 287.2,242 286.9,243 286.7,244.1 286.5,245.3 286.3,246.5 286.2,247.7 286,248.9 286,250.2 285.9,251.6 285.9,252.9 285.9,254.3 286,255.7 286,257 286.2,258.5 286.3,259.9 286.5,261.3 286.7,262.7 286.9,264.1 287.2,265.5 287.4,266.9 287.8,268.2 288.1,269.6 288.5,270.9 288.9,272.2 289.3,273.4 289.7,274.7 290.2,275.9 290.6,277 291.1,278.1 291.6,279.1 292.2,280.1 292.7,281.1 293.3,282 293.8,282.8 294.4,283.6 295,284.3 295.6,284.9 296.2,285.5 296.8,286 297.4,286.4 298,286.8 298.6,287.1 299.2,287.3" fill="url(#lbwall)"/>
<polygon points="345.9,509.6 345.3,509.8 344.7,510 344,510 343.4,510 342.7,509.9 342,509.7 341.4,509.4 340.7,509.1 340,508.7 339.3,508.2 338.6,507.6 338,507 337.3,506.3 336.6,505.5 336,504.7 335.3,503.8 334.7,502.9 334.1,501.9 333.5,500.8 332.9,499.7 332.4,498.5 331.8,497.3 331.3,496.1 330.8,494.8 330.3,493.5 329.9,492.1 329.5,490.7 329.1,489.3 328.7,487.9 328.4,486.5 328.1,485 327.9,483.5 327.6,482.1 327.4,480.6 327.3,479.1 327.2,477.7 327.1,476.3 327,474.8 327,473.4 327,472 327.1,470.7 327.2,469.4 327.3,468.1 327.4,466.8 327.6,465.6 327.9,464.4 328.1,463.3 328.4,462.3 328.7,461.2 329.1,460.3 329.5,459.4 329.9,458.6 330.3,457.8 330.8,457.1 331.3,456.5 331.8,455.9 332.4,455.4 332.9,455 333.5,454.6 334.1,454.4 334.7,454.2 335.3,454 336,454 336.6,454 336.9,454.1 336.3,454.5 335.8,454.9 335.2,455.4 334.7,455.9 334.2,456.6 333.7,457.3 333.3,458 332.9,458.9 332.5,459.8 332.1,460.7 331.8,461.7 331.5,462.8 331.3,463.9 331,465.1 330.8,466.3 330.7,467.6 330.6,468.8 330.5,470.2 330.4,471.5 330.4,472.9 330.4,474.3 330.5,475.7 330.6,477.2 330.7,478.6 330.8,480.1 331,481.6 331.3,483 331.5,484.5 331.8,485.9 332.1,487.4 332.5,488.8 332.9,490.2 333.3,491.6 333.7,492.9 334.2,494.3 334.7,495.6 335.2,496.8 335.8,498 336.3,499.2 336.9,500.3 337.5,501.3 338.1,502.3 338.7,503.3 339.4,504.2 340,505 340.7,505.8 341.4,506.5 342,507.1 342.7,507.7 343.4,508.1 344.1,508.6 344.8,508.9 345.4,509.2 346.1,509.3" fill="url(#lbwall)"/>

<!-- left end: rear parts of bolts and ports -->
<path d="M150 148 L243 136 A5 18 0 0 1 243 172 L150 185Z" fill="url(#navy)"/>
<path d="M236 205.5 L326 194 A5.3 19 0 0 1 326 232 L236 241.5Z" fill="url(#navy)"/>
<path d="M240 529 L332 518 A4.9 17.5 0 0 1 332 553 L240 565Z" fill="url(#navy)"/>
<path d="M236 261 L245 260 A3.2 13 0 0 1 245 286 L236 287Z" fill="#4d5573"/>
<path d="M262 455 L277.5 454 A5.4 27 0 0 1 277.5 508 L262 509Z" fill="url(#port)"/>
<path d="M236 455 L270 451.5 A5.4 30 0 0 1 270 511.5 L236 513Z" fill="url(#port)"/>
<path d="M258 453.5 A5 29 0 0 1 258 511.5" fill="none" stroke="#a9b3d0" stroke-width="1.2"/>
<path d="M261.5 453 A5 29 0 0 1 261.5 511" fill="none" stroke="#59627f" stroke-width="1.2"/>
<!-- left green end plate -->
<polygon points="194,227 247,218 246.5,259.5 194,264" fill="#086d24"/>
<polygon points="192,270 200,262 246.5,259 243,275.5 222,278" fill="#043f12"/>
<polygon points="192,269 222,277.5 243,275 244,521.5 194,526" fill="#086d24"/>
<polygon points="194,524.5 244,521 251,538 252,546.5 194,551" fill="#0d8230"/>
<polygon points="194,549.5 252,546 252,579.5 194,586" fill="#0a7629"/>
<polygon points="194,584.5 252,579 246,587 202,594.5 194,592" fill="#043f12"/>
<polygon points="95,134 140,128.4 157,140 163,158 194,181 204,188 222,187 240,198 247,218 194,230 192,210 182,199 175,198 168,206 110,168 104,148 92,140" fill="url(#gtop)"/>
<polygon points="134,170 170,203 177,191 160,178" fill="url(#sheen)"/>
<path d="M88 148 Q88 135 96 133.5 L108 144 Q113 150 114 164 L170 201 L175 193 L184 194 Q194 198 196 206 L200 226 L200 262 L197 271 L198.5 520 L200 524 L200.5 594 L100 518 L95 512 L95 462 L99 454 L97 214 L94 194 L89 170 Z" fill="#16903d"/>
<!-- left end: front ports and bolts -->
<path d="M59.5 158.1 L103.5 154.2 A3.8 17.5 0 0 1 103.5 189.2 L59.5 194.1Z" fill="url(#navy)"/>
<path d="M32.5 153.6 L58.5 151.8 A5.4 24.4 0 0 1 58.5 200.6 L32.5 204 A5.5 25.2 0 0 1 32.5 153.6Z" fill="url(#navy)"/>
<ellipse cx="32.5" cy="178.8" rx="7.6" ry="25.2" fill="#131e62"/>
<ellipse cx="33.7" cy="179.3" rx="5" ry="19.7" fill="#0e1856" stroke="#050a38" stroke-width="1.4"/>
<path d="M62 240.3 L134 233.6 A7.5 25 0 0 1 134 283.6 L62 292.3 A7.8 26 0 0 1 62 240.3Z" fill="url(#port)"/>
<ellipse cx="63" cy="265.5" rx="6.8" ry="21.5" fill="url(#portFace)"/>
<ellipse cx="64.6" cy="262.5" rx="3.6" ry="12" fill="url(#bore)"/>
<path d="M142.5 215.8 L186.5 211.9 A3.8 17.5 0 0 1 186.5 246.9 L142.5 251.8Z" fill="url(#navy)"/>
<path d="M115.5 211.3 L141.5 209.5 A5.4 24.4 0 0 1 141.5 258.3 L115.5 261.7 A5.5 25.2 0 0 1 115.5 211.3Z" fill="url(#navy)"/>
<ellipse cx="115.5" cy="236.5" rx="7.6" ry="25.2" fill="#131e62"/>
<ellipse cx="116.7" cy="237" rx="5" ry="19.7" fill="#0e1856" stroke="#050a38" stroke-width="1.4"/>
<path d="M65 482.3 L109 478.4 A3.8 17.5 0 0 1 109 513.4 L65 518.3Z" fill="url(#navy)"/>
<path d="M38 477.8 L64 476 A5.4 24.4 0 0 1 64 524.8 L38 528.2 A5.5 25.2 0 0 1 38 477.8Z" fill="url(#navy)"/>
<ellipse cx="38" cy="503" rx="7.6" ry="25.2" fill="#131e62"/>
<ellipse cx="39.2" cy="503.5" rx="5" ry="19.7" fill="#0e1856" stroke="#050a38" stroke-width="1.4"/>
<path d="M106 468 L175 459.5 A6.8 26 0 0 1 175 511.5 L106 519 A6.6 25.5 0 0 1 106 468Z" fill="url(#port)"/>
<ellipse cx="107" cy="493" rx="6.8" ry="21.5" fill="url(#portFace)"/>
<ellipse cx="108.6" cy="490" rx="3.6" ry="12" fill="url(#bore)"/>
<path d="M148.5 540.1 L192.5 536.2 A3.8 17.5 0 0 1 192.5 571.2 L148.5 576.1Z" fill="url(#navy)"/>
<path d="M121.5 535.6 L147.5 533.8 A5.4 24.4 0 0 1 147.5 582.6 L121.5 586 A5.5 25.2 0 0 1 121.5 535.6Z" fill="url(#navy)"/>
<ellipse cx="121.5" cy="560.8" rx="7.6" ry="25.2" fill="#131e62"/>
<ellipse cx="122.7" cy="561.3" rx="5" ry="19.7" fill="#0e1856" stroke="#050a38" stroke-width="1.4"/>

<path class="ln" d="M334.5 253 V32.5 Q334.5 28.5 338.5 28.5 H526.7 M674 28.5 H877.6 Q881.6 28.5 881.6 32.5 V227" stroke="#1aa9e8"/>
<path class="ln" d="M394.6 231 V67.5 Q394.6 63.5 398.6 63.5 H535 M664 63.5 H773.6 Q777.6 63.5 777.6 67.5 V219" stroke="#6e7894"/>
<path class="ln" d="M507 313 V105.7 Q507 101.7 511 101.7 H556.7 M644 101.7 H696.8 Q700.8 101.7 700.8 105.7 V313" stroke="#6e7894"/>
<path class="ln" d="M596 172.7 V234" stroke="#1f3f94"/>
<path class="ln" d="M549.6 500 V538.7 Q549.6 542.7 553.6 542.7 H655 Q659 542.7 659 538.7 V506 M599.4 542.7 V561.7" stroke="#1aa9e8"/>
<path class="ln" d="M465 505 V609.3 Q465 613.3 469 613.3 H563.3 M639 613.3 H733.6 Q737.6 613.3 737.6 609.3 V488" stroke="#e8731c"/>
<path class="ln" d="M369 503 V646.7 Q369 650.7 373 650.7 H533 M666.7 650.7 H845.3 Q849.3 650.7 849.3 646.7 V499" stroke="#2f55a4"/>
<text x="600" y="33.3" text-anchor="middle" font-size="18.2" fill="#1aa9e8" textLength="132" lengthAdjust="spacingAndGlyphs">Insulation board</text>
<text x="599.5" y="70" text-anchor="middle" font-size="18.2" fill="#6e7894" textLength="111" lengthAdjust="spacingAndGlyphs">Bipolar plates</text>
<text x="600" y="107" text-anchor="middle" font-size="18.2" fill="#6e7894" textLength="76" lengthAdjust="spacingAndGlyphs">Electrode</text>
<text x="597.5" y="144" text-anchor="middle" font-size="18.2" fill="#1f3f94" textLength="107" lengthAdjust="spacingAndGlyphs">Ion exchange</text>
<text x="599.5" y="165.5" text-anchor="middle" font-size="18.2" fill="#1f3f94" textLength="86" lengthAdjust="spacingAndGlyphs">membrane</text>
<text x="599.5" y="581" text-anchor="middle" font-size="18.2" fill="#1aa9e8" textLength="109" lengthAdjust="spacingAndGlyphs">Electrode box</text>
<text x="600.3" y="618" text-anchor="middle" font-size="18.2" fill="#e8731c" textLength="56" lengthAdjust="spacingAndGlyphs">Gasket</text>
<text x="600" y="655" text-anchor="middle" font-size="18.2" fill="#2f55a4" textLength="116.6" lengthAdjust="spacingAndGlyphs">Collector plate</text>
<text x="859" y="546.4" font-size="17.3" fill="#111111" style="font-weight:normal" textLength="76.6" lengthAdjust="spacingAndGlyphs">IDTechEx</text>
<rect x="860" y="550" width="75.6" height="21.6" fill="#2f5bb5"/>
<text x="865" y="566.4" font-size="15" fill="#ffffff" style="font-weight:normal" textLength="64" lengthAdjust="spacingAndGlyphs">Research</text>
</g>

</svg>
</body>
</html>
